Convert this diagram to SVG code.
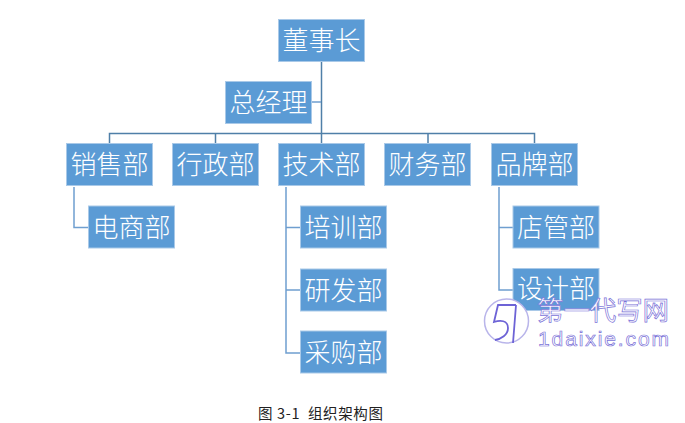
<svg xmlns="http://www.w3.org/2000/svg" width="685" height="423" viewBox="0 0 685 423">
<style>
.n{fill:#5b9bd5;stroke:#a9c9e8;stroke-width:1}
.t{font-family:"Noto Sans CJK SC","Liberation Serif",serif;font-weight:300;font-size:26px;fill:#fff;text-anchor:middle}
.c{fill:none;stroke:#4f7fa8;stroke-width:1.5}
.d{fill:none;stroke:#6f9fd0;stroke-width:1.5}
.w{font-family:"Noto Sans CJK SC","Liberation Sans",sans-serif;fill:#fff;stroke:#7b72d8;stroke-width:.7}
</style>
<rect width="685" height="423" fill="#fff"/>
<g id="connectors">
<path class="c" d="M321.500 62V143M109.500 143V133.500H534.500V143M215.500 133.500V143M428 133.500V143"/>
<path class="d" d="M321 102H312M74 187V227.500H88M286 187V353H300M286 227.500H300M286 290H300M499 187V290H513M499 227.500H513"/>
</g>
<g id="n1"><rect class="n" x="278.500" y="19.500" width="86" height="42"/><text class="t" x="321.500" y="50">董事长</text></g>
<g id="n2"><rect class="n" x="225.500" y="81.500" width="86" height="42"/><text class="t" x="268.500" y="112">总经理</text></g>
<g id="n3"><rect class="n" x="66.500" y="143.500" width="86" height="42"/><text class="t" x="109.500" y="174">销售部</text></g>
<g id="n4"><rect class="n" x="172.500" y="143.500" width="86" height="42"/><text class="t" x="215.500" y="174">行政部</text></g>
<g id="n5"><rect class="n" x="278.500" y="143.500" width="86" height="42"/><text class="t" x="321.500" y="174">技术部</text></g>
<g id="n6"><rect class="n" x="384.500" y="143.500" width="86" height="42"/><text class="t" x="427.500" y="174">财务部</text></g>
<g id="n7"><rect class="n" x="491.500" y="143.500" width="86" height="42"/><text class="t" x="534.500" y="174">品牌部</text></g>
<g id="n8"><rect class="n" x="88.500" y="206" width="86" height="42"/><text class="t" x="131.500" y="236.500">电商部</text></g>
<g id="n9"><rect class="n" x="300.500" y="206" width="86" height="42"/><text class="t" x="343.500" y="236.500">培训部</text></g>
<g id="n10"><rect class="n" x="300.500" y="269" width="86" height="42"/><text class="t" x="343.500" y="299.500">研发部</text></g>
<g id="n11"><rect class="n" x="300.500" y="331" width="86" height="42"/><text class="t" x="343.500" y="361.500">采购部</text></g>
<g id="n12"><rect class="n" x="513" y="206" width="86" height="42"/><text class="t" x="556" y="236.500">店管部</text></g>
<g id="n13"><rect class="n" x="513" y="268.500" width="86" height="42"/><text class="t" x="556" y="298">设计部</text></g>
<text x="258" y="419" font-family="Noto Sans CJK SC,Liberation Serif,serif" font-size="14.500" fill="#222" textLength="125" style="white-space:pre">图 3-1  组织架构图</text>
<g id="watermark">
<circle cx="506.500" cy="321" r="22" fill="#fff" stroke="#b9b5ea" stroke-width="1.500"/>
<path d="M516 305H498L494 322C500 320 508 320 508 328C508 335 501 339 495 340M516 305L513 343" fill="none" stroke="#6d63d6" stroke-width="1.800"/>
<text class="w" x="537" y="320" font-size="26.500" textLength="132">第一代写网</text>
<text class="w" x="538" y="346" font-size="21" textLength="131" style="font-family:'Liberation Sans',sans-serif">1daixie.com</text>
</g>
</svg>
